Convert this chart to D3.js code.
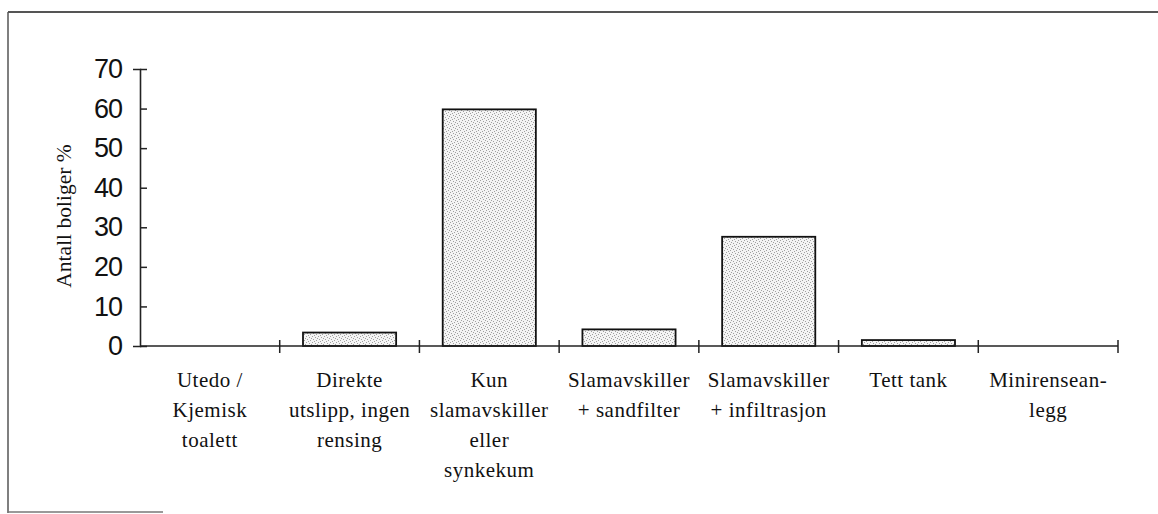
<!DOCTYPE html>
<html>
<head>
<meta charset="utf-8">
<script src="https://cdn.jsdelivr.net/npm/d3@7"></script>
<style>
  body { margin: 0; background: #fff; }
  svg { display: block; }
</style>
</head>
<body>
<div id="chart"></div>
<script>
// categories (label lines) and values
var categories = [
  'Utedo /\nKjemisk\ntoalett',
  'Direkte\nutslipp, ingen\nrensing',
  'Kun\nslamavskiller\neller\nsynkekum',
  'Slamavskiller\n+ sandfilter',
  'Slamavskiller\n+ infiltrasjon',
  'Tett tank',
  'Minirensean-\nlegg'
];
var values = [0, 3.4, 59.8, 4.2, 27.6, 1.5, 0];
var yTicks = [0, 10, 20, 30, 40, 50, 60, 70];
var yTitle = 'Antall boliger %';

var W = 1158, H = 514;
var plot = { left: 140, right: 1118, top: 69, bottom: 346 };

var svg = d3.select('#chart').append('svg')
  .attr('width', W)
  .attr('height', H);

// stipple fill for bars
var pat = svg.append('defs').append('pattern')
  .attr('id', 'stipple')
  .attr('patternUnits', 'userSpaceOnUse')
  .attr('width', 6)
  .attr('height', 6);
pat.append('rect').attr('width', 6).attr('height', 6).attr('fill', '#f4f4f4');
[[0, 0], [3, 1], [1, 3], [4, 4], [5, 2], [2, 5]].forEach(function(p) {
  pat.append('rect').attr('x', p[0]).attr('y', p[1]).attr('width', 1).attr('height', 1).attr('fill', '#a0a0a0');
});

// frame (partly visible in the scan)
svg.append('line').attr('x1', 8).attr('y1', 12).attr('x2', W).attr('y2', 12)
  .attr('stroke', '#555').attr('stroke-width', 2);
svg.append('line').attr('x1', 8).attr('y1', 12).attr('x2', 8).attr('y2', 513)
  .attr('stroke', '#555').attr('stroke-width', 1.5);
svg.append('line').attr('x1', 8).attr('y1', 512).attr('x2', 163).attr('y2', 512)
  .attr('stroke', '#777').attr('stroke-width', 1.5);

//scales
var x = d3.scaleBand()
  .domain(categories)
  .range([plot.left, plot.right])
  .paddingInner(1 / 3)
  .paddingOuter(1 / 6);

var y = d3.scaleLinear()
  .domain([0, 70])
  .range([plot.bottom, plot.top]);

//bars
svg.selectAll('.bar')
  .data(values)
  .enter().append('rect')
  .attr('class', 'bar')
  .attr('x', (d, i) => x(categories[i]))
  .attr('y', d => y(d))
  .attr('width', x.bandwidth())
  .attr('height', d => y(0) - y(d))
  .attr('fill', 'url(#stipple)')
  .attr('stroke', d => d > 0 ? '#111' : 'none')
  .attr('stroke-width', 1.8);

//y axis with ticks crossing the line
var yAxis = svg.append('g')
  .attr('transform', 'translate(' + plot.left + ',0)')
  .call(d3.axisLeft(y).tickValues(yTicks).tickSize(7).tickPadding(11));
yAxis.select('.domain').attr('stroke', '#222').attr('stroke-width', 1.6);
yAxis.selectAll('.tick line').attr('x2', 7).attr('stroke', '#222').attr('stroke-width', 1.5);
yAxis.selectAll('.tick text')
  .attr('font-family', 'Liberation Sans, Arial, sans-serif')
  .attr('font-size', 27)
  .attr('letter-spacing', -1)
  .attr('fill', '#111');

//x axis: line plus ticks at the category boundaries
svg.append('line')
  .attr('x1', plot.left).attr('x2', plot.right)
  .attr('y1', y(0)).attr('y2', y(0))
  .attr('stroke', '#222').attr('stroke-width', 1.6);

var bounds = d3.range(categories.length).map(i => plot.left + (i + 1) * x.step());
svg.selectAll('.xtick')
  .data(bounds)
  .enter().append('line')
  .attr('class', 'xtick')
  .attr('x1', d => d).attr('x2', d => d)
  .attr('y1', y(0) - 6).attr('y2', y(0) + 7)
  .attr('stroke', '#222').attr('stroke-width', 1.5);

//category labels
var lab = svg.selectAll('.xlab')
  .data(categories)
  .enter().append('text')
  .attr('class', 'xlab')
  .attr('text-anchor', 'middle')
  .attr('font-family', 'Liberation Serif, Times New Roman, serif')
  .attr('font-size', 21)
  .attr('letter-spacing', 0.5)
  .attr('fill', '#111');
lab.each(function(c) {
  var t = d3.select(this);
  c.split('\n').forEach(function(line, k) {
    t.append('tspan')
      .attr('x', x(c) + x.bandwidth() / 2)
      .attr('y', 387 + k * 30)
      .text(line);
  });
});

//y title
svg.append('text')
  .attr('transform', 'translate(71,216) rotate(-90)')
  .attr('text-anchor', 'middle')
  .attr('font-family', 'Liberation Serif, Times New Roman, serif')
  .attr('font-size', 21.5)
  .attr('fill', '#111')
  .text(yTitle);
</script>
</body>
</html>
